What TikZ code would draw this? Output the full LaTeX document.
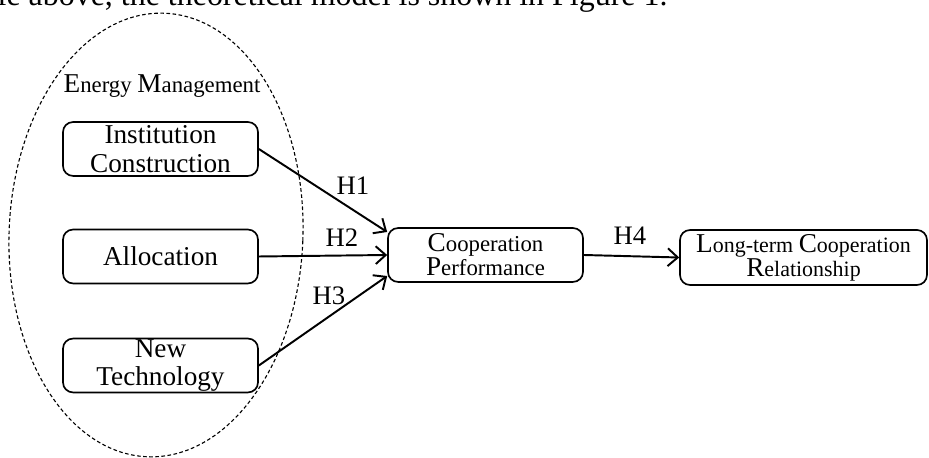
\documentclass[tikz,border=0pt]{standalone}
\usepackage{fontspec}
\setmainfont{Liberation Serif}
\usetikzlibrary{arrows.meta,shapes.geometric,calc}
% slightly larger initial capital inside small labels
\newcommand\initcap[1]{{\fontsize{9.8}{10}\selectfont #1}}
\begin{document}
\begin{tikzpicture}[x=0.36pt,y=-0.36pt,
  box/.style={draw, line width=0.6pt, rounded corners=3.6pt, align=center,
    inner sep=0pt, minimum width=70.2pt, minimum height=19.4pt,
    font=\fontsize{9.8}{10.2}\selectfont},
  smallbox/.style={box, font=\fontsize{8.2}{8.6}\selectfont},
  hyp/.style={font=\fontsize{9.6}{10}\selectfont, inner sep=0pt},
  link/.style={line width=0.7pt, -{Straight Barb[length=3.6pt,width=6.4pt,line width=0.7pt]}}]
\useasboundingbox (0,0) rectangle (929,458);
\clip (0,0) rectangle (929,458);

% running text line above the figure
\node[anchor=base east, inner sep=0pt, font=\fontsize{11.5}{13}\selectfont] (caption) at (668,6)
  {le above, the theoretical model is shown in Figure 1.};

% dashed group outline
\node[ellipse, draw, dashed, dash pattern=on 1.3pt off 0.9pt, line width=0.4pt,
  minimum width=105.8pt, minimum height=159.8pt, inner sep=0pt, rotate=-2.2]
  (group) at (156,235) {};
\node[inner sep=0pt, font=\fontsize{8.2}{9}\selectfont] (grouplabel) at (162,86)
  {\initcap{E}nergy \initcap{M}anagement};

% constructs
\node[box] (inst) at (160.5,149) {Institution\\Construction};
\node[box] (alloc) at (160.5,256.5) {Allocation};
\node[box] (newtech) at (160.5,365.5) {New\\Technology};
\node[smallbox] (coop) at (485.5,255) {\initcap{C}ooperation\\\initcap{P}erformance};
\node[smallbox, minimum width=88.9pt, minimum height=19.8pt,
  font=\fontsize{7.9}{8.6}\selectfont] (longterm) at (803.5,257.5)
  {\initcap{L}ong-term \initcap{C}ooperation\\\initcap{R}elationship};

% hypothesised paths
\draw[link] (inst.east) -- ($(coop.west)+(0,-23)$);
\draw[link] (alloc.east) -- (coop.west);
\draw[link] (newtech.east) -- ($(coop.west)+(0,21)$);
\draw[link] (coop.east) -- (longterm.west);

\node[hyp] (h1) at (353,186) {H1};
\node[hyp] (h2) at (342,238) {H2};
\node[hyp] (h3) at (329,296) {H3};
\node[hyp] (h4) at (630,236) {H4};
\end{tikzpicture}
\end{document}
